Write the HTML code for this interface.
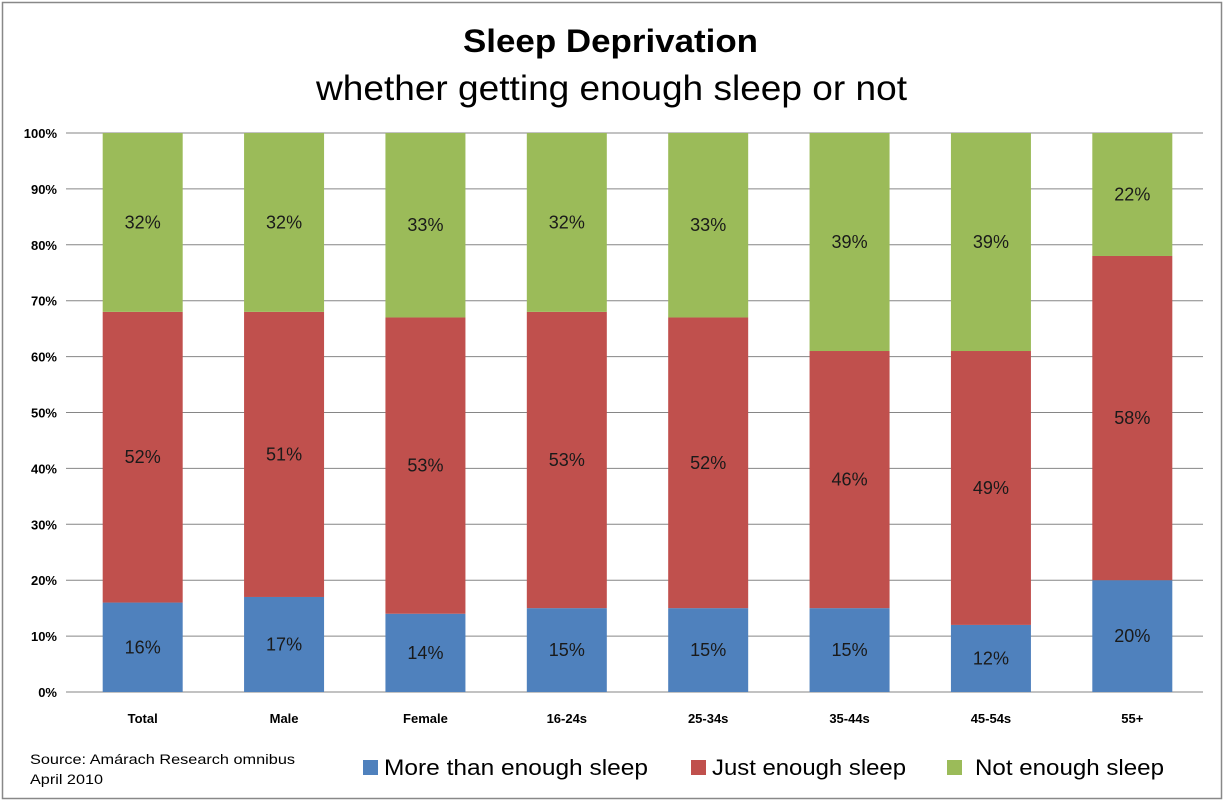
<!DOCTYPE html>
<html><head><meta charset="utf-8"><style>
body{margin:0;background:#fff;}
svg{display:block;font-family:"Liberation Sans",sans-serif;}
</style></head><body>
<svg id="chart" width="1224" height="802" viewBox="0 0 1224 802">
<rect x="2.5" y="2.5" width="1219" height="796" fill="#fff" stroke="#888" stroke-width="1.5"/>
<text x="463" y="52" textLength="295" lengthAdjust="spacingAndGlyphs" font-size="32" font-weight="bold" fill="#000">Sleep Deprivation</text>
<text x="316" y="100" textLength="591" lengthAdjust="spacingAndGlyphs" font-size="35" fill="#000">whether getting enough sleep or not</text>
<g id="grid"></g><g id="bars"></g><g id="labels"></g>
<text x="30" y="764" textLength="265" lengthAdjust="spacingAndGlyphs" font-size="14" fill="#000">Source: Amárach  Research omnibus</text>
<text x="30" y="784" textLength="73" lengthAdjust="spacingAndGlyphs" font-size="14" fill="#000">April 2010</text>
<g>
<rect x="363" y="760" width="15" height="15" fill="#4f81bd"/>
<text x="384" y="775" textLength="264" lengthAdjust="spacingAndGlyphs" font-size="22">More than enough sleep</text>
<rect x="691" y="760" width="15" height="15" fill="#c0504d"/>
<text x="712" y="775" textLength="194" lengthAdjust="spacingAndGlyphs" font-size="22">Just enough sleep</text>
<rect x="947" y="760" width="15" height="15" fill="#9bbb59"/>
<text x="975" y="775" textLength="189" lengthAdjust="spacingAndGlyphs" font-size="22">Not enough sleep</text>
</g>
</svg>
<script>
const categories=["Total","Male","Female","16-24s","25-34s","35-44s","45-54s","55+"];
const moreThanEnough=[16,17,14,15,15,15,12,20];
const justEnough=[52,51,53,53,52,46,49,58];
const notEnough=[32,32,33,32,33,39,39,22];
const yTicks=[0,10,20,30,40,50,60,70,80,90,100];
const NS="http://www.w3.org/2000/svg";
const L=72,R=1203,T=133,B=692;
const y=v=>B-(B-T)*v/100;
const band=(R-L)/categories.length;
const xc=i=>L+band*(i+0.5);
const bw=80;
function mk(tag,attrs,parent){const e=document.createElementNS(NS,tag);for(const k in attrs)e.setAttribute(k,attrs[k]);document.getElementById(parent).appendChild(e);return e;}
yTicks.forEach(t=>{
  const l=mk('line',{x1:L-6,x2:R,y1:y(t),y2:y(t),stroke:'#868686','stroke-width':1},'grid');
  
  
  const tx=mk('text',{x:57,y:y(t)+5,'text-anchor':'end','font-size':13,'font-weight':'bold'},'grid');
  tx.textContent=t+'%';
  
  
});
const series=[[moreThanEnough,'#4f81bd','more'],[justEnough,'#c0504d','just'],[notEnough,'#9bbb59','not']];
categories.forEach((c,i)=>{
  let base=0;
  series.forEach(([vals,col,nm])=>{
    const v=vals[i];
    const r=mk('rect',{x:xc(i)-bw/2,y:y(base+v),width:bw,height:y(base)-y(base+v),fill:col},'bars');
    
    
    const t=mk('text',{x:xc(i),y:y(base+v/2)+6,'text-anchor':'middle','font-size':18,fill:'#1a1a1a'},'labels');
    t.textContent=v+'%';
    
    
    base+=v;
  });
  const ct=mk('text',{x:xc(i),y:723,'text-anchor':'middle','font-size':13,'font-weight':'bold'},'labels');
  ct.textContent=c;
  
  
});
</script>
</body></html>
